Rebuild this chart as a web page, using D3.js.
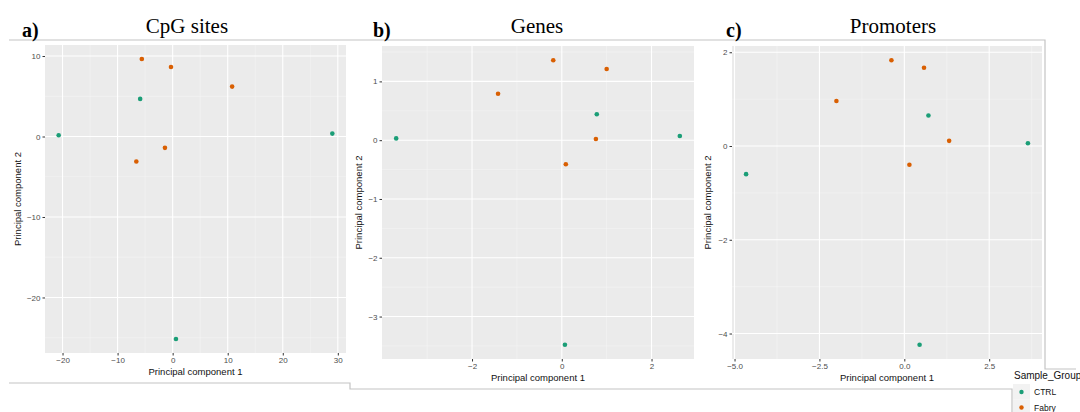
<!doctype html>
<html>
<head>
<meta charset="utf-8">
<title>PCA - CpG sites, Genes, Promoters</title>
<script src="https://cdnjs.cloudflare.com/ajax/libs/d3/7.8.5/d3.min.js"></script>
<style>
  body { margin: 0; background: #fff; }
  svg text { font-family: "Liberation Sans", Arial, sans-serif; }
  svg text.serif { font-family: "Liberation Serif", "Times New Roman", serif; }
  .tick text { fill: #4d4d4d; font-size: 8px; }
  .tick line { stroke: #333; }
  .domain { display: none; }
</style>
</head>
<body>
<div id="root"></div>
<script>
// group of each sample (same order in every panel)
const groups = ['CTRL', 'Fabry'];
const groupColors = ['#1b9e77', '#d95f02'];

// a) CpG sites
const cpgGroup = ['CTRL', 'Fabry', 'Fabry', 'CTRL', 'Fabry', 'CTRL', 'Fabry', 'Fabry', 'CTRL'];
const cpgPC1 = [-20.7, -5.6, -0.3, -5.9, 10.8, 29.0, -1.4, -6.6, 0.6];
const cpgPC2 = [0.16, 9.63, 8.64, 4.67, 6.2, 0.36, -1.41, -3.11, -25.16];
const cpgXTicks = [-20, -10, 0, 10, 20, 30];
const cpgYTicks = [-20, -10, 0, 10];

// b) Genes
const geneGroup = ['CTRL', 'Fabry', 'Fabry', 'Fabry', 'CTRL', 'Fabry', 'Fabry', 'CTRL', 'CTRL'];
const genePC1 = [-3.69, -1.42, -0.19, 1.0, 0.78, 0.76, 0.09, 2.63, 0.07];
const genePC2 = [0.03, 0.79, 1.36, 1.21, 0.44, 0.02, -0.41, 0.07, -3.48];
const geneXTicks = [-2, 0, 2];
const geneYTicks = [-3, -2, -1, 0, 1];

// c) Promoters
const promGroup = ['CTRL', 'Fabry', 'Fabry', 'Fabry', 'CTRL', 'Fabry', 'Fabry', 'CTRL', 'CTRL'];
const promPC1 = [-4.66, -2.0, -0.38, 0.58, 0.71, 1.32, 0.15, 3.64, 0.45];
const promPC2 = [-0.6, 0.96, 1.83, 1.67, 0.65, 0.11, -0.4, 0.06, -4.24];
const promXTicks = [-5.0, -2.5, 0.0, 2.5];
const promYTicks = [-4, -2, 0, 2];

const W = 1080, H = 412;
const svg = d3.select('#root').append('svg').attr('width', W).attr('height', H);
const color = d3.scaleOrdinal().domain(groups).range(groupColors);

// borders of the pasted figure pieces
const border = '#c4c4c4';
svg.append('path')
  .attr('d', 'M9,40H1045V369H1076')
  .attr('fill', 'none').attr('stroke', border).attr('stroke-width', 1.2);
svg.append('path')
  .attr('d', 'M9,383H350V389H1012V412')
  .attr('fill', 'none').attr('stroke', border).attr('stroke-width', 1.2);

function minorBreaks(ticks) {
  const step = ticks[1] - ticks[0];
  const out = [];
  for (let i = -1; i < ticks.length; i++) out.push(ticks[0] + step * (i + 0.5));
  return out;
}

function drawPanel(p) {
  const ext = (arr) => {
    const [a, b] = d3.extent(arr);
    const pad = (b - a) * 0.05;
    return [a - pad, b + pad];
  };
  const x = d3.scaleLinear().domain(ext(p.pc1)).range([p.left, p.right]);
  const y = d3.scaleLinear().domain(ext(p.pc2)).range([p.bottom, p.top]);
  const g = svg.append('g');

  g.append('rect')
    .attr('x', p.left).attr('y', p.top)
    .attr('width', p.right - p.left).attr('height', p.bottom - p.top)
    .attr('fill', '#ebebeb');

  const inX = (v) => v > x.domain()[0] && v < x.domain()[1];
  const inY = (v) => v > y.domain()[0] && v < y.domain()[1];

  // minor grid
  g.selectAll('.mx').data(minorBreaks(p.xTicks).filter(inX)).join('line')
    .attr('x1', d => x(d)).attr('x2', d => x(d))
    .attr('y1', p.top).attr('y2', p.bottom)
    .attr('stroke', '#f5f5f5').attr('stroke-width', 0.6);
  g.selectAll('.my').data(minorBreaks(p.yTicks).filter(inY)).join('line')
    .attr('y1', d => y(d)).attr('y2', d => y(d))
    .attr('x1', p.left).attr('x2', p.right)
    .attr('stroke', '#f5f5f5').attr('stroke-width', 0.6);
  // major grid
  g.selectAll('.gx').data(p.xTicks).join('line')
    .attr('x1', d => x(d)).attr('x2', d => x(d))
    .attr('y1', p.top).attr('y2', p.bottom)
    .attr('stroke', '#fff').attr('stroke-width', 1.1);
  g.selectAll('.gy').data(p.yTicks).join('line')
    .attr('y1', d => y(d)).attr('y2', d => y(d))
    .attr('x1', p.left).attr('x2', p.right)
    .attr('stroke', '#fff').attr('stroke-width', 1.1);

  // axes
  g.append('g')
    .attr('transform', `translate(0,${p.bottom})`)
    .call(d3.axisBottom(x).tickValues(p.xTicks).tickSize(2.5).tickPadding(2)
      .tickFormat(p.xFmt));
  g.append('g')
    .attr('transform', `translate(${p.left},0)`)
    .call(d3.axisLeft(y).tickValues(p.yTicks).tickSize(2.5).tickPadding(2)
      .tickFormat(p.yFmt));

  // points
  g.selectAll('circle').data(p.pc1.map((v, i) => ({x: v, y: p.pc2[i], grp: p.grp[i]})))
    .join('circle')
    .attr('cx', d => x(d.x)).attr('cy', d => y(d.y)).attr('r', 2.3)
    .attr('fill', d => color(d.grp));

  // axis titles
  g.append('text')
    .attr('x', (p.left + p.right) / 2).attr('y', p.bottom + 22)
    .attr('text-anchor', 'middle').attr('font-size', 9.5).attr('fill', '#111')
    .text('Principal component 1');
  g.append('text')
    .attr('transform', `translate(${p.ylabX},${(p.top + p.bottom) / 2}) rotate(-90)`)
    .attr('text-anchor', 'middle').attr('font-size', 9.5).attr('fill', '#111')
    .text('Principal component 2');

  // panel letter and title
  svg.append('text').attr('class', 'serif')
    .attr('x', p.letterX).attr('y', 37)
    .attr('font-size', 20).attr('font-weight', 'bold')
    .text(p.letter);
  svg.append('text').attr('class', 'serif')
    .attr('x', p.titleX).attr('y', 33)
    .attr('text-anchor', 'middle')
    .attr('font-size', 21)
    .text(p.title);
}

drawPanel({
  pc1: cpgPC1, pc2: cpgPC2, grp: cpgGroup, xTicks: cpgXTicks, yTicks: cpgYTicks,
  left: 45, right: 346, top: 45, bottom: 353, ylabX: 21,
  letter: 'a)', letterX: 22, title: 'CpG sites', titleX: 187,
  xFmt: d3.format(''), yFmt: d3.format('')
});
drawPanel({
  pc1: genePC1, pc2: genePC2, grp: geneGroup, xTicks: geneXTicks, yTicks: geneYTicks,
  left: 382, right: 694, top: 46, bottom: 359, ylabX: 362,
  letter: 'b)', letterX: 373, title: 'Genes', titleX: 537,
  xFmt: d3.format(''), yFmt: d3.format('')
});
drawPanel({
  pc1: promPC1, pc2: promPC2, grp: promGroup, xTicks: promXTicks, yTicks: promYTicks,
  left: 732, right: 1042, top: 46, bottom: 359, ylabX: 711,
  letter: 'c)', letterX: 726, title: 'Promoters', titleX: 893,
  xFmt: d3.format('.1f'), yFmt: d3.format('')
});

// legend
const leg = svg.append('g');
leg.append('text').attr('x', 1014).attr('y', 379)
  .attr('font-size', 10).attr('fill', '#111').text('Sample_Group');
groups.forEach((grp, i) => {
  const ky = 384 + i * 15.5;
  leg.append('rect').attr('x', 1013).attr('y', ky).attr('width', 17).attr('height', 15.5)
    .attr('fill', '#f2f2f2');
  leg.append('circle').attr('cx', 1021.5).attr('cy', ky + 8).attr('r', 2.2)
    .attr('fill', color(grp));
  leg.append('text').attr('x', 1034).attr('y', ky + 11)
    .attr('font-size', 8.5).attr('fill', '#111').text(grp);
});
</script>
</body>
</html>
